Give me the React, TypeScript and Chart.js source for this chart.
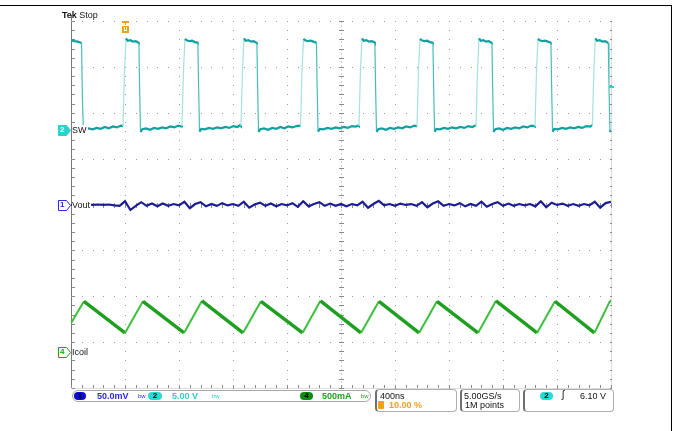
import React, { useEffect, useRef } from "react";
import { Chart, registerables } from "chart.js";

Chart.register(...registerables);

// Time axis: ns from left edge of graticule (400 ns / div, 10 div)
const TIME_MIN = 0;
const TIME_MAX = 4000;
const TIME_DIV = 400;
// Vertical axis in screen divisions (8 div, centre = 0)
const DIV_MIN = -4;
const DIV_MAX = 4;

// Channel 2 (SW) - [ns, div]
const swPoints: [number, number][] = [
  [0, 3.58], [25, 3.56], [50, 3.55], [78, 3.52], [84, 2.4], [92, 1.6], [105, 1.63], [130, 1.66], [160, 1.64], [190, 1.67], [220, 1.65], [250, 1.69], [280, 1.66], [310, 1.7], [340, 1.68], [370, 1.72],
  [385, 1.71], [396, 2.9], [407, 3.62], [420, 3.57], [440, 3.58], [460, 3.55], [480, 3.56], [498, 3.53], [503, 3.52], [508, 2.6], [515, 1.58], [528, 1.64],
  [555, 1.66], [585, 1.63], [615, 1.67], [645, 1.65], [675, 1.68], [705, 1.66], [735, 1.7], [765, 1.68], [795, 1.72], [815, 1.7],
  [822, 1.72], [833, 2.9], [844, 3.61], [857, 3.58], [877, 3.56], [897, 3.57], [917, 3.54], [935, 3.53], [940, 3.52], [945, 2.6], [952, 1.59], [965, 1.65],
  [992, 1.64], [1022, 1.67], [1052, 1.65], [1082, 1.68], [1112, 1.66], [1142, 1.69], [1172, 1.67], [1202, 1.71], [1232, 1.69], [1252, 1.73],
  [1259, 1.71], [1270, 2.9], [1281, 3.62], [1294, 3.57], [1314, 3.58], [1334, 3.55], [1354, 3.56], [1372, 3.53], [1377, 3.52], [1382, 2.6], [1389, 1.58], [1402, 1.64],
  [1430, 1.66], [1460, 1.63], [1490, 1.67], [1520, 1.65], [1550, 1.69], [1580, 1.66], [1610, 1.7], [1640, 1.68], [1670, 1.71], [1692, 1.72],
  [1700, 1.7], [1711, 2.9], [1722, 3.61], [1735, 3.58], [1755, 3.56], [1775, 3.57], [1795, 3.55], [1813, 3.53], [1818, 3.52], [1823, 2.6], [1830, 1.59], [1843, 1.65],
  [1870, 1.64], [1900, 1.67], [1930, 1.65], [1960, 1.68], [1990, 1.66], [2020, 1.69], [2050, 1.67], [2080, 1.71], [2110, 1.7], [2128, 1.72],
  [2133, 1.71], [2144, 2.9], [2155, 3.62], [2168, 3.57], [2188, 3.58], [2208, 3.55], [2228, 3.56], [2246, 3.54], [2251, 3.52], [2256, 2.6], [2263, 1.58], [2276, 1.64],
  [2303, 1.66], [2333, 1.63], [2363, 1.67], [2393, 1.65], [2423, 1.68], [2453, 1.66], [2483, 1.7], [2513, 1.68], [2543, 1.72], [2558, 1.71],
  [2563, 1.7], [2574, 2.9], [2585, 3.61], [2598, 3.58], [2618, 3.56], [2638, 3.57], [2658, 3.54], [2676, 3.53], [2681, 3.52], [2686, 2.6], [2693, 1.59], [2706, 1.65],
  [2733, 1.64], [2763, 1.67], [2793, 1.65], [2823, 1.68], [2853, 1.66], [2883, 1.69], [2913, 1.67], [2943, 1.71], [2973, 1.69], [2995, 1.72],
  [3000, 1.71], [3011, 2.9], [3022, 3.62], [3035, 3.57], [3055, 3.58], [3075, 3.55], [3095, 3.56], [3113, 3.53], [3118, 3.52], [3123, 2.6], [3130, 1.58], [3143, 1.64],
  [3170, 1.66], [3200, 1.63], [3230, 1.67], [3260, 1.65], [3290, 1.68], [3320, 1.66], [3350, 1.7], [3380, 1.68], [3410, 1.72], [3430, 1.71],
  [3437, 1.7], [3448, 2.9], [3459, 3.61], [3472, 3.58], [3492, 3.56], [3512, 3.57], [3532, 3.55], [3550, 3.53], [3555, 3.52], [3560, 2.6], [3567, 1.59], [3580, 1.65],
  [3607, 1.64], [3637, 1.67], [3667, 1.65], [3697, 1.68], [3727, 1.66], [3757, 1.69], [3787, 1.67], [3817, 1.71], [3847, 1.7], [3857, 1.72],
  [3862, 1.71], [3873, 2.9], [3884, 3.62], [3897, 3.57], [3917, 3.58], [3937, 3.55], [3957, 3.56], [3975, 3.53], [3980, 3.52], [3985, 2.6], [3992, 1.58], [4000, 1.62],
];

// Channel 4 (Icoil) corner points - [ns, div]
const icoilPoints: [number, number][] = [
  [0, -2.59], [96, -2.11], [400, -2.8], [533, -2.11], [837, -2.8], [970, -2.1], [1274, -2.8], [1407, -2.11],
  [1715, -2.8], [1848, -2.1], [2148, -2.8], [2281, -2.11], [2578, -2.8], [2711, -2.11], [3015, -2.8], [3148, -2.1],
  [3452, -2.8], [3585, -2.11], [3877, -2.8], [3993, -2.1], [4000, -2.11],
];

// Channel 1 (Vout) samples every 40 ns - div
const voutSampleNs = 40;
const voutValues: number[] = [
  -0.01, 0.0, -0.01, 0.0, -0.01, 0.0, -0.01, 0.0, -0.02,
  -0.03, 0.07, -0.12, -0.03, 0.05, -0.03, 0.02, -0.04, 0.02, -0.03,
  0.01, -0.02, 0.06, -0.08, 0.01, 0.05, -0.04, 0.01, -0.03, 0.03,
  -0.02, 0.01, -0.03, 0.06, -0.07, 0.0, 0.04, -0.03, 0.02, -0.04,
  0.01, -0.02, 0.03, -0.05, 0.07, -0.04, 0.01, 0.05, -0.03, 0.02,
  -0.03, 0.01, -0.04, 0.01, -0.02, 0.06, -0.07, 0.01, 0.08, -0.02,
  0.01, -0.03, 0.02, -0.01, 0.01, -0.03, 0.05, -0.06, 0.02, 0.07,
  -0.03, 0.01, -0.02, 0.03, -0.04, 0.01, -0.03, 0.06, -0.05, 0.01,
  0.05, -0.03, 0.02, -0.03, 0.01, -0.02, 0.01, -0.04, 0.07, -0.06,
  0.04, -0.01, 0.02, -0.03, 0.01, -0.03, 0.01, -0.02, 0.06, -0.07,
  0.03, 0.06,
];

// Channel ground reference levels (div) and tag styles
const channelLevels = [1.62, 0, -3.21];
const channelColors = ["#2dcfcf", "#2a2ae0", "#1a9e1a"];
const channelFilled = [true, false, false];
const triggerTimeNs = 400;

const graticulePlugin = {
  id: "graticule",
  beforeDatasetsDraw(chart: any) {
    const { ctx, chartArea: a, scales } = chart;
    const xs = scales.x;
    const ys = scales.y;
    ctx.save();
    const px = (t: number) => Math.round(xs.getPixelForValue(t));
    const py = (v: number) => Math.round(ys.getPixelForValue(v));
    const left = Math.round(a.left);
    const right = Math.round(a.right);
    const top = Math.round(a.top);
    const bottom = Math.round(a.bottom);
    ctx.fillStyle = "#dcdcdc";
    ctx.fillRect(right, top, 1, bottom - top);
    ctx.fillRect(left, bottom, right - left, 1);
    ctx.fillStyle = "#7a7a7a";
    ctx.fillRect(left, top - 6, 1, bottom - top + 6);
    ctx.fillStyle = "#999999";
    for (let i = 1; i < 10; i++) {
      if (i === 5) continue;
      const x = px(i * TIME_DIV);
      for (let j = 0; j <= 40; j++) ctx.fillRect(x, py(DIV_MIN + j * 0.2), 1, 1);
    }
    for (let k = 0; k <= 8; k++) {
      if (k === 4 || k === 0) continue;
      const y = py(DIV_MIN + k);
      for (let j = 0; j <= 50; j++) ctx.fillRect(px(j * 80), y, 1, 1);
    }
    const cx = px(2000);
    const cy = py(0);
    ctx.fillStyle = "#cfcfcf";
    for (let y = top; y < bottom; y += 4) ctx.fillRect(cx, y, 1, 2);
    ctx.fillStyle = "#8a8a8a";
    for (let j = 0; j <= 40; j++) {
      const y = py(DIV_MIN + j * 0.2);
      ctx.fillRect(cx - 2, y, 5, 1);
      ctx.fillRect(left + 1, y, 3, 1);
      ctx.fillRect(right - 1, y, 2, 1);
    }
    for (let j = 0; j <= 50; j++) {
      const x = px(j * 80);
      ctx.fillRect(x, cy - 2, 1, 5);
      ctx.fillRect(x, bottom - 3, 1, 3);
    }
    ctx.restore();
  },
  afterDraw(chart: any) {
    const { ctx, scales } = chart;
    const ys = scales.y;
    const xs = scales.x;
    ctx.save();
    channelLevels.forEach((lv, i) => {
      const y = Math.round(ys.getPixelForValue(lv)) + 0.5;
      ctx.beginPath();
      ctx.moveTo(58.5, y - 5);
      ctx.lineTo(66.5, y - 5);
      ctx.lineTo(70.5, y);
      ctx.lineTo(66.5, y + 5);
      ctx.lineTo(58.5, y + 5);
      ctx.closePath();
      ctx.fillStyle = channelFilled[i] ? channelColors[i] : "#ffffff";
      ctx.fill();
      ctx.strokeStyle = channelColors[i];
      ctx.lineWidth = 1;
      ctx.stroke();
    });
    const tx = Math.round(xs.getPixelForValue(triggerTimeNs));
    ctx.fillStyle = "#f0a020";
    ctx.fillRect(tx - 3, 21, 7, 2);
    ctx.fillRect(tx, 21, 1, 4);
    ctx.fillRect(tx - 3, 26, 7, 7);
    ctx.fillStyle = "#ffffff";
    ctx.fillRect(tx - 1, 27, 1, 4);
    ctx.fillRect(tx + 1, 27, 1, 4);
    ctx.fillRect(tx - 1, 30, 3, 1);
    ctx.fillStyle = "#2dcfcf";
    ctx.fillRect(Math.round(chart.chartArea.right) - 2, 86, 5, 2);
    ctx.restore();
  },
};

const steep = (c: any) => Math.abs(c.p1.parsed.y - c.p0.parsed.y) > 0.4;

export default function App() {
  const ref = useRef<HTMLCanvasElement | null>(null);
  useEffect(() => {
    document.body.style.margin = "0";
    const canvas = ref.current;
    if (!canvas) return;
    const chart = new Chart(canvas, {
      type: "line",
      data: {
        datasets: [
          {
            label: "SW",
            data: swPoints.map(([x, y]) => ({ x, y })),
            borderColor: "#139f9f",
            borderWidth: 2.2,
            pointRadius: 0,
            segment: {
              borderColor: (c: any) =>
                steep(c) ? (c.p1.parsed.y > c.p0.parsed.y ? "#a6e0e0" : "#48bcbc") : undefined,
              borderWidth: (c: any) => (steep(c) ? 1.2 : undefined),
            },
          },
          {
            label: "Vout",
            data: voutValues.map((v, i) => ({ x: i * voutSampleNs, y: v })),
            borderColor: "#1c1c94",
            borderWidth: 2.2,
            pointRadius: 0,
          },
          {
            label: "Icoil",
            data: icoilPoints.map(([x, y]) => ({ x, y })),
            borderColor: "#1f9f1f",
            borderWidth: 3.4,
            pointRadius: 0,
            segment: {
              borderColor: (c: any) => (c.p1.parsed.y > c.p0.parsed.y ? "#3cbf3c" : undefined),
              borderWidth: (c: any) => (c.p1.parsed.y > c.p0.parsed.y ? 2 : undefined),
            },
          },
        ],
      },
      options: {
        animation: false,
        responsive: false,
        devicePixelRatio: 1,
        layout: { padding: { left: 71, right: 63, top: 21, bottom: 43 } },
        plugins: { legend: { display: false }, tooltip: { enabled: false } },
        scales: {
          x: { type: "linear", min: TIME_MIN, max: TIME_MAX, display: false },
          y: { type: "linear", min: DIV_MIN, max: DIV_MAX, display: false },
        },
        elements: { line: { tension: 0 } },
      },
      plugins: [graticulePlugin],
    });
    return () => chart.destroy();
  }, []);

  const font = '"Liberation Sans", Arial, sans-serif';
  const abs = (l: number, t: number, extra: any = {}) => ({
    position: "absolute" as const,
    left: l,
    top: t,
    whiteSpace: "nowrap" as const,
    ...extra,
  });
  const pill = (l: number, t: number, w: number, bg: string, txt: string, color = "#000") => (
    <div
      style={abs(l, t, {
        width: w,
        height: 8,
        borderRadius: 5,
        background: bg,
        color,
        fontSize: 8,
        lineHeight: "8px",
        textAlign: "center",
        fontWeight: "bold",
      })}
    >
      {txt}
    </div>
  );
  const label = (l: number, t: number, txt: string) => (
    <div style={abs(l, t, { fontSize: 9, lineHeight: "10px", color: "#111", background: "#fff", paddingRight: 1 })}>{txt}</div>
  );

  return (
    <div style={{ position: "absolute", left: 0, top: 0, width: 674, height: 431, background: "#fff", fontFamily: font, overflow: "hidden" }}>
      <canvas ref={ref} width={674} height={431} style={{ position: "absolute", left: 0, top: 0 }} />
      <div style={abs(0, 5, { width: 672, height: 1, background: "#000" })} />
      <div style={abs(671, 5, { width: 1, height: 426, background: "#000" })} />
      <div style={abs(62, 10, { fontSize: 9, lineHeight: "10px", color: "#111" })}>
        <b>Tek</b> Stop
      </div>
      <div style={abs(60, 125, { fontSize: 8, lineHeight: "10px", color: "#fff", fontWeight: "bold" })}>2</div>
      {label(72, 125, "SW")}
      <div style={abs(60, 200, { fontSize: 8, lineHeight: "10px", color: "#2a2ae0", fontWeight: "bold" })}>1</div>
      {label(72, 200, "Vout")}
      <div style={abs(60, 347, { fontSize: 8, lineHeight: "10px", color: "#1a9e1a", fontWeight: "bold" })}>4</div>
      {label(72, 347, "Icoil")}

      <div style={abs(72, 390, { width: 297, height: 10, border: "1px solid #a8a8a8", borderRadius: 6 })} />
      {pill(74, 392, 12, "#0c0cd6", "1")}
      <div style={abs(97, 391, { fontSize: 9, lineHeight: "10px", color: "#2a2ae6", fontWeight: "bold" })}>50.0mV</div>
      <div style={abs(138, 391, { fontSize: 6, lineHeight: "10px", color: "#2a2ae6" })}>bw</div>
      {pill(148, 392, 14, "#2ed6d6", "2")}
      <div style={abs(172, 391, { fontSize: 9, lineHeight: "10px", color: "#35c9c9", fontWeight: "bold" })}>5.00 V</div>
      <div style={abs(212, 391, { fontSize: 6, lineHeight: "10px", color: "#35c9c9" })}>bw</div>
      {pill(300, 392, 13, "#0e8c0e", "4")}
      <div style={abs(322, 391, { fontSize: 9, lineHeight: "10px", color: "#22a022", fontWeight: "bold" })}>500mA</div>
      <div style={abs(361, 391, { fontSize: 6, lineHeight: "10px", color: "#22a022" })}>bw</div>

      <div style={abs(375, 389, { width: 79, height: 21, border: "1px solid #b0b0b0", borderLeft: "2px solid #707070", borderRadius: 4 })} />
      <div style={abs(380, 391, { fontSize: 9, lineHeight: "10px", color: "#111" })}>400ns</div>
      <div style={abs(378, 401, { width: 6, height: 8, background: "#f0a020", borderRadius: 1 })} />
      <div style={abs(389, 400, { fontSize: 9, lineHeight: "10px", color: "#f0a020", fontWeight: "bold" })}>10.00 %</div>

      <div style={abs(460, 389, { width: 57, height: 21, border: "1px solid #b0b0b0", borderLeft: "2px solid #707070", borderRadius: 4 })} />
      <div style={abs(464, 391, { fontSize: 9, lineHeight: "10px", color: "#111" })}>5.00GS/s</div>
      <div style={abs(465, 400, { fontSize: 9, lineHeight: "10px", color: "#111" })}>1M points</div>

      <div style={abs(523, 389, { width: 88, height: 21, border: "1px solid #b0b0b0", borderLeft: "2px solid #707070", borderRadius: 4 })} />
      {pill(540, 392, 13, "#2ed6d6", "2")}
      <div style={abs(562, 390, { fontSize: 10, lineHeight: "10px", color: "#111" })}>ʃ</div>
      <div style={abs(580, 391, { fontSize: 9, lineHeight: "10px", color: "#111" })}>6.10 V</div>
    </div>
  );
}
